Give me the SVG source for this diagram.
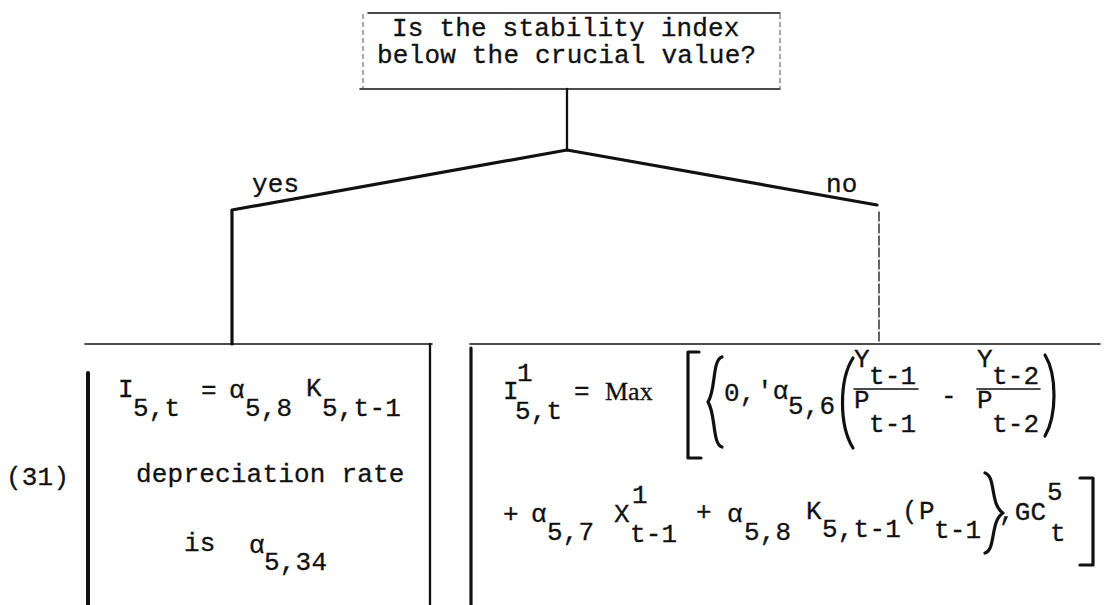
<svg xmlns="http://www.w3.org/2000/svg" width="1104" height="605" viewBox="0 0 1104 605">
<style>
text{font-family:"Liberation Mono","DejaVu Sans Mono",monospace;font-size:26px;letter-spacing:0.2px;fill:#111;stroke:#111;stroke-width:0.3}
text.serif{font-family:"Liberation Serif","DejaVu Serif",serif;font-size:26px;letter-spacing:0}
.ln{stroke:#111;fill:none;stroke-linecap:round;stroke-linejoin:round}
.thin{stroke-width:1.6}
.mid{stroke-width:2.3}
.thick{stroke-width:3.2}
.faint{stroke:#555;stroke-width:1;stroke-dasharray:5 3;fill:none}
</style>
<rect width="1104" height="605" fill="#fff"/>
<g id="question">
<path class="ln thin" d="M368,13 H780"/>
<path class="ln thin" d="M360,89 H780"/>
<path class="faint" d="M363,14 V88 M780,14 V88"/>
<text x="392" y="36">Is the stability index</text>
<text x="377" y="63">below the crucial value?</text>
</g>
<g id="connectors">
<path class="ln mid" d="M567,89 V150"/>
<path class="ln thick" d="M567,150 L232,210 V344"/>
<path class="ln thick" d="M567,150 L877,205"/>
<path class="ln" stroke-width="1.3" stroke-dasharray="9 3" d="M879,212 V344"/>
<text x="252" y="192">yes</text>
<text x="826" y="192">no</text>
</g>
<g id="yes-box">
<path class="ln thin" d="M85,344 H432"/>
<path class="ln" stroke-width="4" d="M88,373 V605"/>
<path class="ln mid" d="M430,344 V605"/>
<text x="6" y="485">(31)</text>
<text x="118" y="397">I</text>
<text x="133" y="416">5,t</text>
<text x="201" y="398">=</text>
<text x="229" y="398">α</text>
<text x="245" y="416">5,8</text>
<text x="306" y="396">K</text>
<text x="322" y="416">5,t-1</text>
<text x="136" y="482">depreciation rate</text>
<text x="184" y="551">is</text>
<text x="249" y="553">α</text>
<text x="264" y="570">5,34</text>
</g>
<g id="no-box">
<path class="ln thin" d="M470,344 H1100"/>
<path class="ln thick" d="M471,348 V605"/>
<text x="503" y="399">I</text>
<text x="517" y="381">1</text>
<text x="515" y="419">5,t</text>
<text x="574" y="399">=</text>
<text class="serif" x="605" y="400">Max</text>
<path class="ln thick" d="M699,352 H688 V458 H701"/>
<path class="ln thick" d="M722,357 C712,360 716,390 708,402 C716,414 712,444 722,447"/>
<text x="724" y="401">0,</text>
<text x="757" y="399">'α</text>
<text x="788" y="414">5,6</text>
<path class="ln thick" d="M853,358 C839,380 839,425 853,448"/>
<text x="854" y="367">Y</text>
<text x="869" y="384">t-1</text>
<path class="ln thin" d="M854,389 H918"/>
<text x="854" y="408">P</text>
<text x="869" y="432">t-1</text>
<text x="941" y="404">-</text>
<text x="977" y="367">Y</text>
<text x="992" y="384">t-2</text>
<path class="ln thin" d="M977,389 H1040"/>
<text x="977" y="408">P</text>
<text x="992" y="432">t-2</text>
<path class="ln thick" d="M1045,355 C1057,375 1057,415 1045,436"/>
<text x="503" y="522">+</text>
<text x="531" y="522">α</text>
<text x="547" y="540">5,7</text>
<text x="614" y="522">X</text>
<text x="632" y="503">1</text>
<text x="630" y="542">t-1</text>
<text x="696" y="520">+</text>
<text x="727" y="522">α</text>
<text x="744" y="540">5,8</text>
<text x="806" y="519">K</text>
<text x="822" y="537">5,t-1</text>
<text x="902" y="519">(</text>
<text x="919" y="519">P</text>
<text x="934" y="538">t-1</text>
<path class="ln thick" d="M985,473 C996,476 990,505 1003,513 C990,521 996,550 985,553"/>
<text x="999" y="520">,GC</text>
<text x="1047" y="500">5</text>
<text x="1050" y="541">t</text>
<path class="ln thick" d="M1080,478 H1093 V565 H1080"/>
</g>
</svg>
